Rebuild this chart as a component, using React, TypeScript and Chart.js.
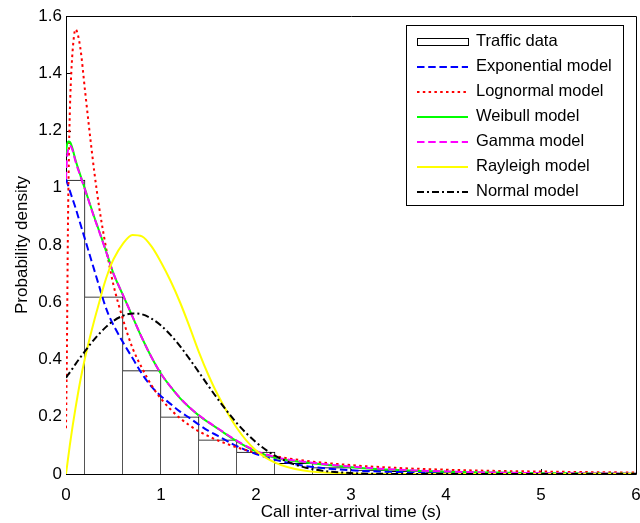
import React, { useEffect, useRef } from "react";
import { Chart, registerables } from "chart.js";

Chart.register(...registerables);

// ---- data ----
const XS = [0, 0.01, 0.02, 0.03, 0.04, 0.05, 0.07, 0.1, 0.15, 0.2, 0.25, 0.3, 0.35, 0.4, 0.45, 0.5, 0.6, 0.7, 0.8, 0.9, 1.0, 1.1, 1.2, 1.3, 1.4, 1.5, 1.6, 1.8, 2.0, 2.2, 2.5, 3.0, 3.5, 4.0, 4.5, 5.0, 5.5, 6.0];

const EXPONENTIAL = [1.03, 1.02, 1.01, 1.0, 0.99, 0.98, 0.96, 0.93, 0.875, 0.82, 0.765, 0.71, 0.655, 0.6, 0.555, 0.52, 0.46, 0.405, 0.35, 0.305, 0.272, 0.245, 0.218, 0.196, 0.172, 0.151, 0.133, 0.097, 0.07, 0.05, 0.029, 0.013, 0.007, 0.004, 0.002, 0.001, 0.001, 0.001];
const LOGNORMAL = [0.16, 0.45, 0.85, 1.1, 1.26, 1.36, 1.48, 1.553, 1.49, 1.34, 1.19, 1.05, 0.93, 0.83, 0.74, 0.66, 0.54, 0.44, 0.37, 0.31, 0.263, 0.226, 0.195, 0.17, 0.149, 0.132, 0.117, 0.093, 0.075, 0.062, 0.047, 0.031, 0.021, 0.015, 0.011, 0.0086, 0.0066, 0.0052];
const WEIBULL = [1.12, 1.15, 1.16, 1.162, 1.16, 1.155, 1.135, 1.097, 1.045, 0.995, 0.945, 0.895, 0.848, 0.8, 0.75, 0.7, 0.625, 0.55, 0.475, 0.408, 0.35, 0.305, 0.265, 0.232, 0.204, 0.18, 0.158, 0.114, 0.079, 0.057, 0.041, 0.024, 0.014, 0.008, 0.005, 0.003, 0.002, 0.001];
const GAMMA = [1.03, 1.1, 1.13, 1.142, 1.146, 1.145, 1.13, 1.092, 1.042, 0.993, 0.943, 0.893, 0.846, 0.798, 0.748, 0.7, 0.625, 0.55, 0.475, 0.408, 0.35, 0.305, 0.266, 0.233, 0.205, 0.181, 0.159, 0.116, 0.081, 0.059, 0.043, 0.026, 0.015, 0.009, 0.005, 0.003, 0.002, 0.001];
const RAYLEIGH = [0, 0.025, 0.05, 0.075, 0.1, 0.123, 0.168, 0.23, 0.325, 0.405, 0.475, 0.54, 0.6, 0.66, 0.71, 0.75, 0.805, 0.835, 0.83, 0.795, 0.74, 0.675, 0.6, 0.515, 0.425, 0.345, 0.275, 0.16, 0.082, 0.04, 0.012, 0.002, 0, 0, 0, 0, 0, 0];
const NORMAL = [0.336, 0.341, 0.346, 0.35, 0.355, 0.36, 0.369, 0.384, 0.407, 0.429, 0.451, 0.471, 0.49, 0.507, 0.522, 0.535, 0.553, 0.561, 0.558, 0.543, 0.519, 0.486, 0.447, 0.402, 0.355, 0.307, 0.261, 0.177, 0.111, 0.064, 0.024, 0.0033, 0.0003, 0, 0, 0, 0, 0];

const HIST_CENTERS = [0, 0.4, 0.8, 1.2, 1.6, 2.0, 2.4, 2.8, 3.2, 3.6, 4.0, 4.4, 4.8, 5.2, 5.6, 6.0];
const HIST_VALUES = [1.027, 0.619, 0.361, 0.2, 0.119, 0.077, 0.037, 0.022, 0.014, 0.009, 0.006, 0.004, 0.003, 0.002, 0.002, 0.001];

const X_TICK_VALUES = [0, 1, 2, 3, 4, 5, 6];
const X_TICK_LABELS = ["0", "1", "2", "3", "4", "5", "6"];
const Y_TICK_VALUES = [0, 0.2, 0.4, 0.6, 0.8, 1.0, 1.2, 1.4, 1.6];
const Y_TICK_LABELS = ["0", "0.2", "0.4", "0.6", "0.8", "1", "1.2", "1.4", "1.6"];

const X_TITLE = "Call inter-arrival time (s)";
const Y_TITLE = "Probability density";
const LABELS = ["Traffic data", "Exponential model", "Lognormal model", "Weibull model", "Gamma model", "Rayleigh model", "Normal model"];

const FONT_FAMILY = '"Liberation Sans", Arial, Helvetica, sans-serif';

const toPoints = (ys: number[]) => XS.map((x, i) => ({ x, y: ys[i] }));

const boxAndTicks = {
  id: "boxAndTicks",
  beforeDatasetsDraw(chart: any) {
    const { ctx, chartArea: a, scales } = chart;
    ctx.save();
    ctx.strokeStyle = "#000";
    ctx.lineWidth = 1;
    ctx.beginPath();
    ctx.rect(a.left + 0.5, a.top + 0.5, a.right - a.left, a.bottom - a.top);
    ctx.stroke();
    ctx.beginPath();
    for (const v of Y_TICK_VALUES) {
      const y = Math.round(scales.y.getPixelForValue(v)) + 0.5;
      ctx.moveTo(a.left, y);
      ctx.lineTo(a.left + 5, y);
    }
    for (const v of X_TICK_VALUES) {
      const x = Math.round(scales.x.getPixelForValue(v)) + 0.5;
      ctx.moveTo(x, a.bottom);
      ctx.lineTo(x, a.bottom - 5);
    }
    ctx.stroke();
    ctx.restore();
  },
};

const boxLegend = {
  id: "boxLegend",
  afterDraw(chart: any) {
    const { ctx } = chart;
    const bx = 406.5, by = 25.5, bw = 217, bh = 180;
    ctx.save();
    ctx.fillStyle = "#fff";
    ctx.fillRect(bx, by, bw, bh);
    ctx.strokeStyle = "#000";
    ctx.lineWidth = 1;
    ctx.strokeRect(bx, by, bw, bh);
    ctx.font = `16.5px ${FONT_FAMILY}`;
    ctx.textBaseline = "middle";
    ctx.textAlign = "left";
    chart.data.datasets.forEach((ds: any, i: number) => {
      const y = 41.7 + i * 25;
      const x0 = 417, x1 = 468;
      if (ds.type === "bar") {
        ctx.setLineDash([]);
        ctx.fillStyle = "#fff";
        ctx.fillRect(x0 + 0.5, Math.round(y - 4) + 0.5, x1 - x0, 7);
        ctx.strokeStyle = "#000";
        ctx.lineWidth = 1;
        ctx.strokeRect(x0 + 0.5, Math.round(y - 4) + 0.5, x1 - x0, 7);
      } else {
        ctx.setLineDash(ds.borderDash || []);
        ctx.strokeStyle = ds.borderColor;
        ctx.lineWidth = ds.borderWidth;
        ctx.beginPath();
        ctx.moveTo(x0, Math.round(y));
        ctx.lineTo(x1, Math.round(y));
        ctx.stroke();
      }
      ctx.setLineDash([]);
      ctx.fillStyle = "#000";
      ctx.fillText(ds.label, 476, y);
    });
    ctx.restore();
  },
};

export default function App() {
  const ref = useRef<HTMLCanvasElement | null>(null);
  useEffect(() => {
    if (!ref.current) return;
    const lineDs = (label: string, ys: number[], color: string, dash: number[], order: number) => ({
      type: "line",
      label,
      data: toPoints(ys),
      borderColor: color,
      backgroundColor: color,
      borderWidth: 2,
      borderDash: dash,
      pointRadius: 0,
      fill: false,
      cubicInterpolationMode: "monotone",
      order,
    });
    const tickFont = { family: FONT_FAMILY, size: 17 };
    const chart = new Chart(ref.current, {
      type: "line",
      data: {
        datasets: [
          {
            type: "bar",
            label: LABELS[0],
            data: HIST_CENTERS.map((x, i) => ({ x, y: HIST_VALUES[i] })),
            backgroundColor: "#fff",
            borderColor: "#000",
            borderWidth: { top: 1, right: 1, left: 0, bottom: 0 },
            borderSkipped: false,
            barPercentage: 1,
            categoryPercentage: 1,
            clip: 0,
            order: 7,
          } as any,
          lineDs(LABELS[1], EXPONENTIAL, "#0000ff", [7.5, 3.7], 6),
          lineDs(LABELS[2], LOGNORMAL, "#ff0000", [2.5, 3.3], 5),
          lineDs(LABELS[3], WEIBULL, "#00ff00", [], 4),
          lineDs(LABELS[4], GAMMA, "#ff00ff", [7.5, 3.7], 3),
          lineDs(LABELS[5], RAYLEIGH, "#ffff00", [], 2),
          lineDs(LABELS[6], NORMAL, "#000000", [7, 3, 2, 3], 1),
        ] as any,
      },
      options: {
        animation: false,
        responsive: false,
        maintainAspectRatio: false,
        layout: { padding: { top: 16, right: 4, left: 0, bottom: 0 } },
        plugins: { legend: { display: false }, tooltip: { enabled: false } },
        scales: {
          x: {
            type: "linear",
            min: 0,
            max: 6,
            offset: false,
            grid: { display: false, drawTicks: false },
            border: { display: false },
            afterBuildTicks: (s: any) => {
              s.ticks = X_TICK_VALUES.map((v) => ({ value: v }));
            },
            afterFit: (s: any) => {
              s.height = 49;
              s.paddingLeft = 0;
              s.paddingRight = 0;
            },
            ticks: {
              callback: (_v: any, i: number) => X_TICK_LABELS[i],
              padding: 11,
              font: tickFont,
              color: "#000",
              maxRotation: 0,
              autoSkip: false,
            },
            title: { display: true, text: X_TITLE, font: tickFont, color: "#000", padding: { top: 0, bottom: 0 } },
          },
          y: {
            type: "linear",
            min: 0,
            max: 1.6,
            grid: { display: false, drawTicks: false },
            border: { display: false },
            afterBuildTicks: (s: any) => {
              s.ticks = Y_TICK_VALUES.map((v) => ({ value: v }));
            },
            afterFit: (s: any) => {
              s.width = 66;
              s.paddingTop = 0;
              s.paddingBottom = 0;
            },
            ticks: {
              callback: (_v: any, i: number) => Y_TICK_LABELS[i],
              padding: 4,
              font: tickFont,
              color: "#000",
              autoSkip: false,
            },
            title: { display: true, text: Y_TITLE, font: tickFont, color: "#000", padding: { top: 12, bottom: 0 } },
          },
        },
      } as any,
      plugins: [boxAndTicks, boxLegend],
    });
    return () => chart.destroy();
  }, []);
  return (
    <div style={{ position: "absolute", left: 0, top: 0, width: 640, height: 523, background: "#fff" }}>
      <canvas ref={ref} width={640} height={523} style={{ display: "block" }} />
    </div>
  );
}
